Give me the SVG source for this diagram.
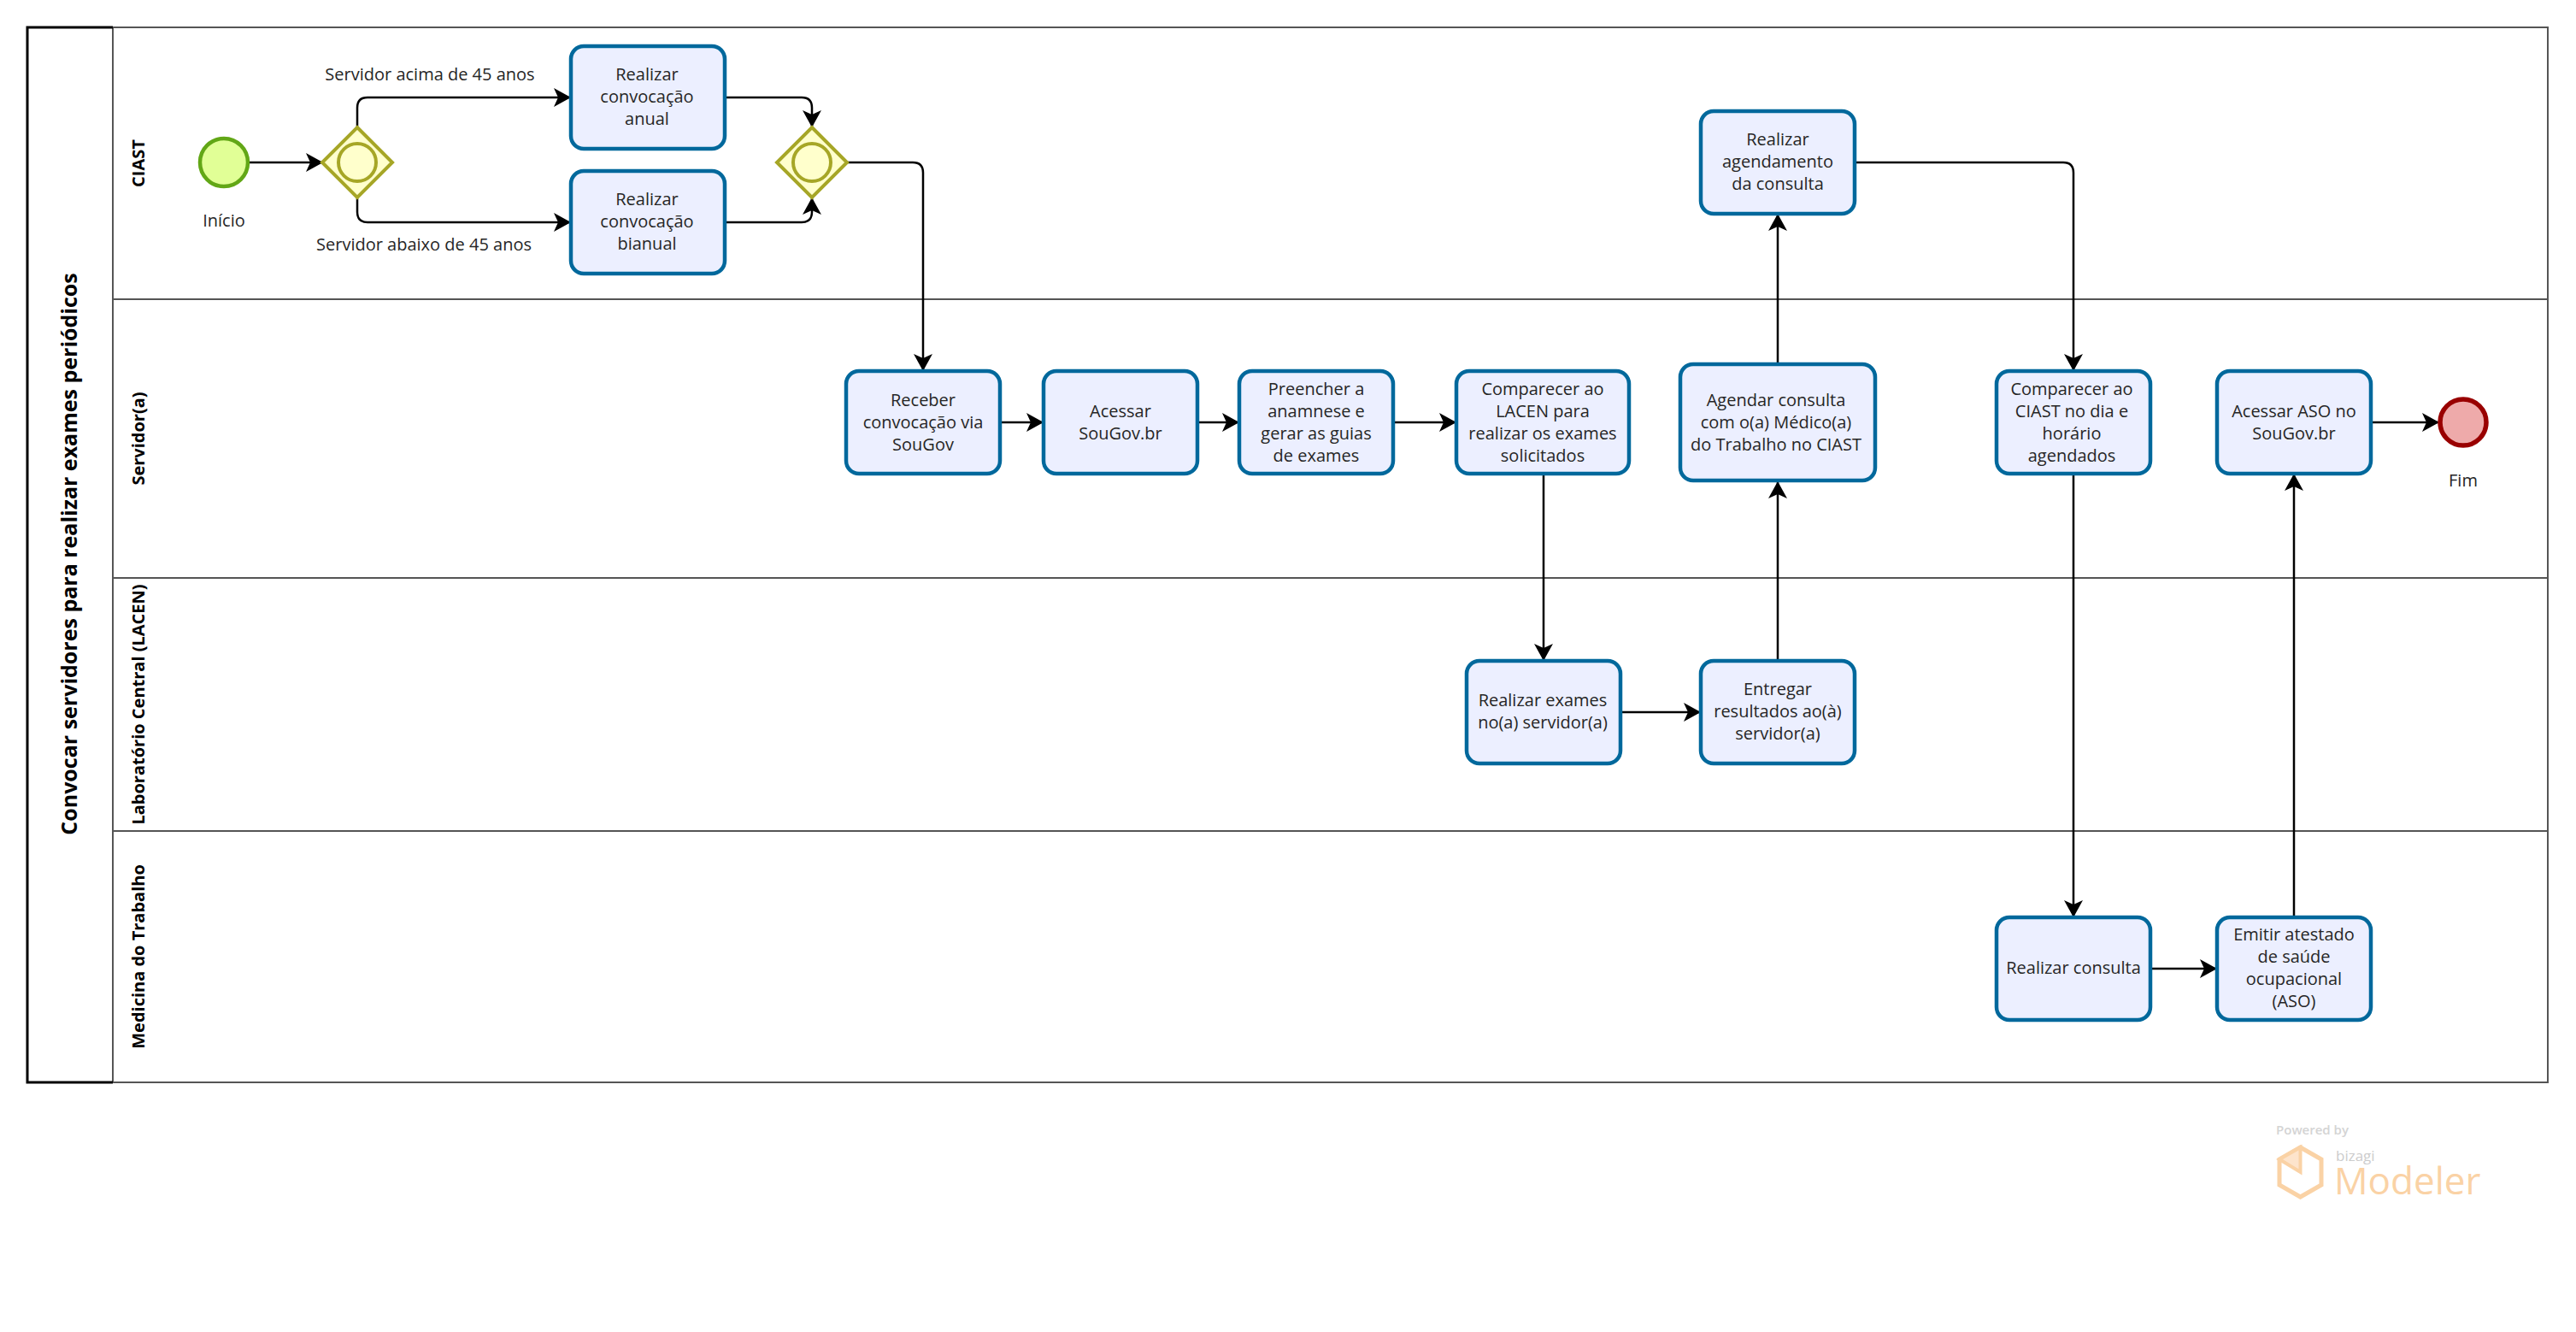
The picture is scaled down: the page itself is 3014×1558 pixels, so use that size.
<svg xmlns="http://www.w3.org/2000/svg" width="3014" height="1558" viewBox="0 0 3014 1558">
<style>
text{font-family:"Open Sans","Noto Sans","Liberation Sans",sans-serif;fill:#262626;font-size:20px;text-anchor:middle}
.t rect{fill:#ecefff;stroke:#00689c;stroke-width:4.5}
.g polygon{fill:#ffffcc;stroke:#a6a626;stroke-width:4}
.g circle{fill:#ffffcc;stroke:#a6a626;stroke-width:4}
.l{fill:none;stroke:#555;stroke-width:2}
.k{fill:none;stroke:#000;stroke-width:3}
.h{font-weight:700;fill:#000;font-size:20px}
#connectors path{fill:none;stroke:#000;stroke-width:2.5;marker-end:url(#a)}
</style>
<defs><marker id="a" markerUnits="userSpaceOnUse" markerWidth="24" markerHeight="24" refX="20" refY="11" orient="auto"><path d="M0 0L20 11L0 22L5 11Z" fill="#000"/></marker></defs>
<rect width="3014" height="1558" fill="#fff"/>
<g id="pool">
<path class="l" d="M132 32H2981V1266H132V32M132 350H2981M132 676H2981M132 972H2981"/>
<path class="k" d="M132 32H32V1266H132"/>
<text class="h" style="font-size:25px" transform="translate(90 648) rotate(-90)">Convocar servidores para realizar exames periódicos</text>
<text class="h" transform="translate(169 191) rotate(-90)">CIAST</text>
<text class="h" transform="translate(169 513) rotate(-90)">Servidor(a)</text>
<text class="h" transform="translate(169 824) rotate(-90)">Laboratório Central (LACEN)</text>
<text class="h" transform="translate(169 1119) rotate(-90)">Medicina do Trabalho</text>
</g>
<g id="connectors">
<path d="M291 190H378"/>
<path d="M418 149V126Q418 114 430 114H668"/>
<path d="M418 231V248Q418 260 430 260H668"/>
<path d="M848 114H938Q950 114 950 126V149"/>
<path d="M848 260H938Q950 260 950 248V231"/>
<path d="M991 190H1068Q1080 190 1080 202V434"/>
<path d="M1170 494H1221"/>
<path d="M1401 494H1450"/>
<path d="M1630 494H1704"/>
<path d="M1806 554V773"/>
<path d="M1895 833H1990"/>
<path d="M2080 773V563"/>
<path d="M2080 425V250"/>
<path d="M2170 190H2414Q2426 190 2426 202V434"/>
<path d="M2426 554V1073"/>
<path d="M2516 1133H2594"/>
<path d="M2684 1073V554"/>
<path d="M2774 494H2854"/>
</g>
<g id="start"><circle cx="262" cy="190" r="28" fill="#e1ff96" stroke="#62a716" stroke-width="4.5"/><text x="262" y="265">Início</text></g>
<g id="split" class="g"><polygon points="418,149 459,190 418,231 377,190"/><circle cx="418" cy="190" r="22"/></g>
<g id="join" class="g"><polygon points="950,149 991,190 950,231 909,190"/><circle cx="950" cy="190" r="22"/></g>
<g id="label1"><text x="503" y="94">Servidor acima de 45 anos</text></g>
<g id="label2"><text x="496" y="293">Servidor abaixo de 45 anos</text></g>
<g id="n1" class="t"><rect x="668" y="54" width="180" height="120" rx="15"/><text x="757" y="94">Realizar</text><text x="757" y="120">convocação</text><text x="757" y="146">anual</text></g>
<g id="n2" class="t"><rect x="668" y="200" width="180" height="120" rx="15"/><text x="757" y="240">Realizar</text><text x="757" y="266">convocação</text><text x="757" y="292">bianual</text></g>
<g id="n3" class="t"><rect x="990" y="434" width="180" height="120" rx="15"/><text x="1080" y="475">Receber</text><text x="1080" y="501">convocação via</text><text x="1080" y="527">SouGov</text></g>
<g id="n4" class="t"><rect x="1221" y="434" width="180" height="120" rx="15"/><text x="1311" y="488">Acessar</text><text x="1311" y="514">SouGov.br</text></g>
<g id="n5" class="t"><rect x="1450" y="434" width="180" height="120" rx="15"/><text x="1540" y="462">Preencher a</text><text x="1540" y="488">anamnese e</text><text x="1540" y="514">gerar as guias</text><text x="1540" y="540">de exames</text></g>
<g id="n6" class="t"><rect x="1704" y="434" width="202" height="120" rx="15"/><text x="1805" y="462">Comparecer ao</text><text x="1805" y="488">LACEN para</text><text x="1805" y="514">realizar os exames</text><text x="1805" y="540">solicitados</text></g>
<g id="n7" class="t"><rect x="1966" y="426" width="228" height="136" rx="15"/><text x="2078" y="475">Agendar consulta</text><text x="2078" y="501">com o(a) Médico(a)</text><text x="2078" y="527">do Trabalho no CIAST</text></g>
<g id="n8" class="t"><rect x="1990" y="130" width="180" height="120" rx="15"/><text x="2080" y="170">Realizar</text><text x="2080" y="196">agendamento</text><text x="2080" y="222">da consulta</text></g>
<g id="n9" class="t"><rect x="1716" y="773" width="180" height="120" rx="15"/><text x="1805" y="826">Realizar exames</text><text x="1805" y="852">no(a) servidor(a)</text></g>
<g id="n10" class="t"><rect x="1990" y="773" width="180" height="120" rx="15"/><text x="2080" y="813">Entregar</text><text x="2080" y="839">resultados ao(à)</text><text x="2080" y="865">servidor(a)</text></g>
<g id="n11" class="t"><rect x="2336" y="434" width="180" height="120" rx="15"/><text x="2424" y="462">Comparecer ao</text><text x="2424" y="488">CIAST no dia e</text><text x="2424" y="514">horário</text><text x="2424" y="540">agendados</text></g>
<g id="n12" class="t"><rect x="2594" y="434" width="180" height="120" rx="15"/><text x="2684" y="488">Acessar ASO no</text><text x="2684" y="514">SouGov.br</text></g>
<g id="n13" class="t"><rect x="2336" y="1073" width="180" height="120" rx="15"/><text x="2426" y="1139">Realizar consulta</text></g>
<g id="n14" class="t"><rect x="2594" y="1073" width="180" height="120" rx="15"/><text x="2684" y="1100">Emitir atestado</text><text x="2684" y="1126">de saúde</text><text x="2684" y="1152">ocupacional</text><text x="2684" y="1178">(ASO)</text></g>
<g id="end"><circle cx="2882" cy="494" r="27" fill="#eeaaaa" stroke="#990000" stroke-width="5.5"/><text x="2882" y="569">Fim</text></g>
<g id="logo">
<path d="M2691.5 1342L2716 1356V1386L2691.5 1400L2667 1386V1356Z" fill="none" stroke="#fad2a5" stroke-width="5"/>
<path d="M2691.5 1342L2667 1356L2691.5 1371Z" fill="#fde4cc" stroke="#fad2a5" stroke-width="4"/>
<text x="2663" y="1327" style="font-size:15px;font-weight:600;fill:#d4d4d4;text-anchor:start">Powered by</text>
<text x="2733" y="1358" style="font-size:17px;fill:#ccc;text-anchor:start">bizagi</text>
<text x="2731" y="1397" style="font-size:44px;font-weight:500;fill:#fad2a5;text-anchor:start">Modeler</text>
</g>
</svg>
